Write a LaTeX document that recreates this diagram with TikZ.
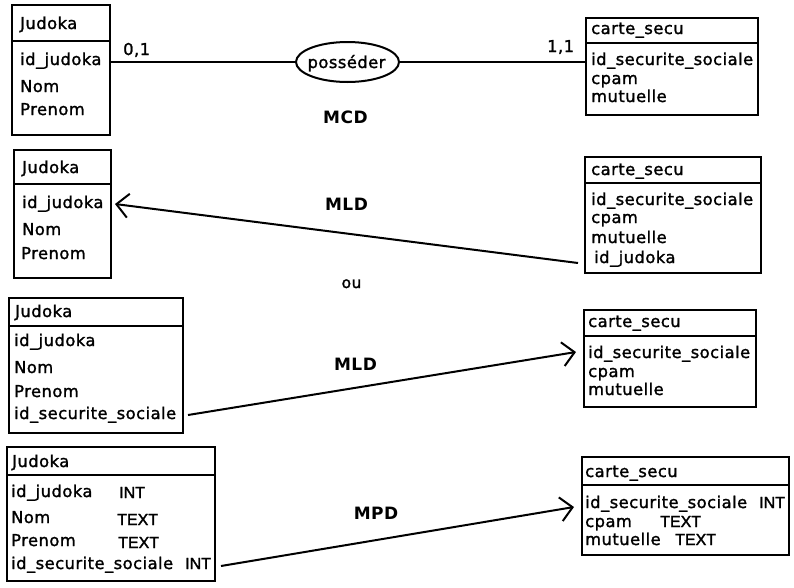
\documentclass[tikz,border=0pt]{standalone}
\usepackage{fontspec}
\setmainfont{DejaVu Sans}[LetterSpace=3, FakeBold=1.5, BoldFeatures={FakeBold=0}]
\newfontfamily\typefont{Liberation Sans}[FakeBold=2]
\usetikzlibrary{arrows.meta,shapes.geometric,calc}
\tikzset{
  ent/.style={draw, line width=2pt, inner sep=0pt, outer sep=0pt, rectangle},
  sepline/.style={line width=2pt},
  txt/.style={anchor=base west, inner sep=0pt, font=\fontsize{16.3}{17}\selectfont, text height=11.5pt, text depth=3.5pt},
  typ/.style={txt, font=\typefont\fontsize{16}{16}\selectfont},
  lbl/.style={anchor=base, inner sep=0pt, font=\bfseries\fontsize{17}{18}\selectfont},
  conn/.style={line width=2pt},
  arr/.style={conn, -{Straight Barb[length=12pt,width=24pt,line width=2pt]}},
  assoc/.style={ellipse, draw, line width=2pt, inner sep=0pt, minimum width=103pt, minimum height=40pt}
}
\newcommand{\ebox}[6]{%
  \node[ent, minimum width={#4-#2}, minimum height={#5-#3}, anchor=north west] (#1) at (#2,#3) {};
  \draw[sepline] (#1.west |- 0,#6) -- (#1.east |- 0,#6);}
\begin{document}
\begin{tikzpicture}[x=1pt,y=-1pt]
\useasboundingbox (0,0) rectangle (794,587);
% ---------- MCD ----------
\ebox{j1}{12}{5}{110}{135}{41}
\node[txt] (j1h) at (20,29) {Judoka};
\node[txt] (j1a) at (20,65) {id\_judoka};
\node[txt] (j1b) at (20,92) {Nom};
\node[txt] (j1c) at (20,115) {Prenom};
\ebox{c1}{586}{18}{758}{115}{43}
\node[txt] (c1h) at (591,34) {carte\_secu};
\node[txt] (c1a) at (591,65) {id\_securite\_sociale};
\node[txt] (c1b) at (591,84) {cpam};
\node[txt] (c1c) at (591,102) {mutuelle};
\node[assoc] (pos) at (347.5,62) {};
\node[txt, anchor=base] (posl) at (346.5,68) {posséder};
\draw[conn] (j1.east |- pos.west) -- (pos.west);
\draw[conn] (pos.east) -- (c1.west |- pos.east);
\node[txt] (card1) at (123,55) {0,1};
\node[txt] (card2) at (547,52) {1,1};
\node[lbl] (mcd) at (345.5,123) {MCD};
% ---------- MLD 1 ----------
\ebox{j2}{14}{150}{111}{278}{184}
\node[txt] (j2h) at (22,173) {Judoka};
\node[txt] (j2a) at (22,208) {id\_judoka};
\node[txt] (j2b) at (22,235) {Nom};
\node[txt] (j2c) at (21,259) {Prenom};
\ebox{c2}{585}{157}{761}{273}{183}
\node[txt] (c2h) at (591,175) {carte\_secu};
\node[txt] (c2a) at (591,205) {id\_securite\_sociale};
\node[txt] (c2b) at (591,223) {cpam};
\node[txt] (c2c) at (591,243) {mutuelle};
\node[txt] (c2d) at (594,263) {id\_judoka};
\draw[arr] ($(c2.west |- c2d.base)+(-7,0)$) -- ($(j2.east |- j2a.east)+(4,0)$);
\node[lbl] (mld1) at (346.5,210) {MLD};
\node[anchor=base, inner sep=0pt, font=\fontsize{15.5}{16}\selectfont] (ou) at (351.5,288) {ou};
% ---------- MLD 2 ----------
\ebox{j3}{9}{298}{183}{433}{326}
\node[txt] (j3h) at (15,317) {Judoka};
\node[txt] (j3a) at (14,346) {id\_judoka};
\node[txt] (j3b) at (14,373) {Nom};
\node[txt] (j3c) at (14,397) {Prenom};
\node[txt] (j3d) at (14,419) {id\_securite\_sociale};
\ebox{c3}{584}{310}{756}{407}{336}
\node[txt] (c3h) at (588,327) {carte\_secu};
\node[txt] (c3a) at (588,358) {id\_securite\_sociale};
\node[txt] (c3b) at (588,377) {cpam};
\node[txt] (c3c) at (588,395) {mutuelle};
\draw[arr] ($(j3.east |- j3d.east)+(5,0)$) -- ($(c3.west |- c3a.east)+(-8,-2)$);
\node[lbl] (mld2) at (355.5,370) {MLD};
% ---------- MPD ----------
\ebox{j4}{7}{447}{215}{581}{475}
\node[txt] (j4h) at (12,467) {Judoka};
\node[txt] (j4a) at (11,497) {id\_judoka};
\node[typ] (j4at) at (119,498) {INT};
\node[txt] (j4b) at (11,523) {Nom};
\node[typ] (j4bt) at (117,525) {TEXT};
\node[txt] (j4c) at (11,546) {Prenom};
\node[typ] (j4ct) at (118,548) {TEXT};
\node[txt] (j4d) at (11,569) {id\_securite\_sociale};
\node[typ] (j4dt) at (185,569) {INT};
\ebox{c4}{582}{457}{789}{555}{485}
\node[txt] (c4h) at (585,477) {carte\_secu};
\node[txt] (c4a) at (585,508) {id\_securite\_sociale};
\node[typ] (c4at) at (759,508) {INT};
\node[txt] (c4b) at (585,527) {cpam};
\node[typ] (c4bt) at (660,527) {TEXT};
\node[txt] (c4c) at (585,545) {mutuelle};
\node[typ] (c4ct) at (675,545) {TEXT};
\draw[arr] ($(j4.east |- j4dt.east)+(6,1)$) -- ($(c4.west |- c4a.east)+(-8,3)$);
\node[lbl] (mpd) at (376,519) {MPD};
\end{tikzpicture}
\end{document}
